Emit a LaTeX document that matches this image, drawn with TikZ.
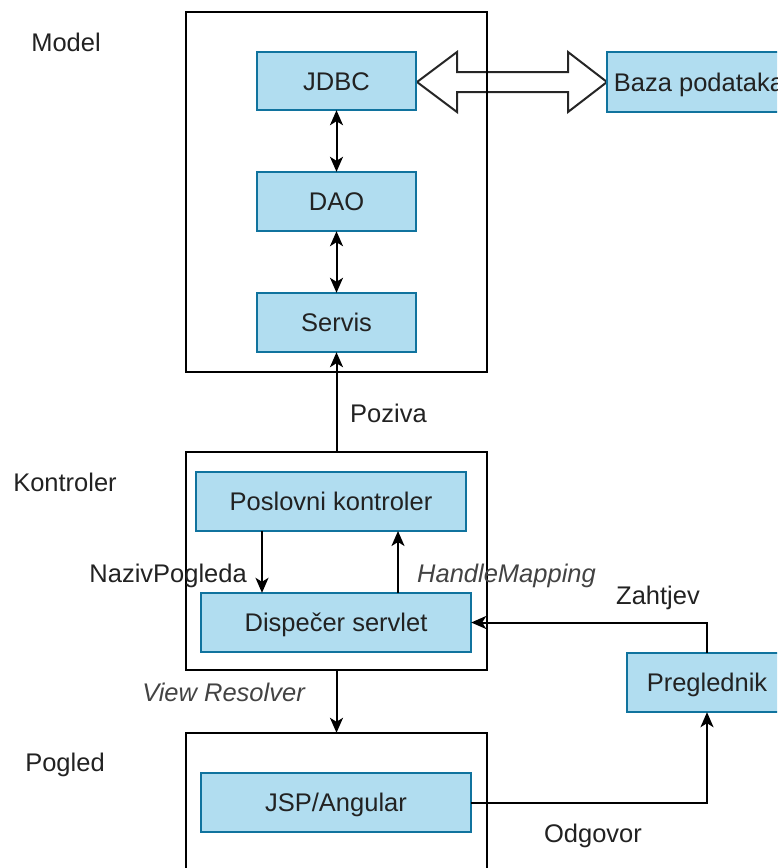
\documentclass[tikz,border=0pt]{standalone}
\usepackage{fontspec}
\setmainfont{Liberation Sans}
\usetikzlibrary{arrows.meta,calc}
\definecolor{boxfill}{HTML}{B1DDF0}
\definecolor{boxline}{HTML}{10739E}
\definecolor{txt}{HTML}{222222}
\begin{document}
\begin{tikzpicture}[x=1pt,y=-1pt,
  every node/.style={font=\fontsize{25.5}{30}\selectfont, text=txt, inner sep=0pt, text height=18.3pt, text depth=0pt},
  blue/.style={draw=boxline, fill=boxfill, line width=2pt},
  ital/.style={font=\fontsize{25.5}{30}\selectfont\itshape, text=txt!85},
  tipk/.tip={Stealth[length=15pt,width=13pt,inset=4pt]},
  conn/.style={draw=black, line width=2pt, -tipk},
  biconn/.style={draw=black, line width=2pt, tipk-tipk}
]
\useasboundingbox (0,0) rectangle (777,868);
\clip (0,0) rectangle (777,868);

% double arrow JDBC <-> Baza
\filldraw[fill=white, draw=black!85, line width=2pt, line join=miter]
  (417,82) -- (457,52) -- (457,72) -- (568,72) -- (568,52) -- (607,82)
  -- (568,112) -- (568,92) -- (457,92) -- (457,112) -- cycle;

% containers
\draw[black, line width=2pt] (186,12) rectangle (487,372);
\node[minimum width=301pt, minimum height=360pt] (model) at (336.5,192) {};
\draw[black, line width=2pt] (186,452) rectangle (487,670);
\node[minimum width=301pt, minimum height=218pt] (kontroler) at (336.5,561) {};
\draw[black, line width=2pt] (186,733) rectangle (487,900);
\node[minimum width=301pt, minimum height=167pt] (pogled) at (336.5,816.5) {};

% blue boxes
\draw[blue] (257,52) rectangle (416,110);
\node (jdbc) at (336.5,81) [minimum width=159pt, minimum height=58pt] {JDBC};
\draw[blue] (257,172) rectangle (416,231);
\node (dao) at (336.5,201.5) [minimum width=159pt, minimum height=59pt] {DAO};
\draw[blue] (257,293) rectangle (416,352);
\node (servis) at (336.5,322.5) [minimum width=159pt, minimum height=59pt] {Servis};

\draw[blue] (607,52) rectangle (800,112);
\node (baza) at (699,82) [minimum width=184pt, minimum height=60pt] {Baza podataka};

\draw[blue] (196,472) rectangle (466,531);
\node (posl) at (331,501.5) [minimum width=270pt, minimum height=59pt] {Poslovni kontroler};
\draw[blue] (201,593) rectangle (471,652);
\node (disp) at (336,622.5) [minimum width=270pt, minimum height=59pt] {Dispečer servlet};
\draw[blue] (201,773) rectangle (471,832);
\node (jsp) at (336,802.5) [minimum width=270pt, minimum height=59pt] {JSP/Angular};
\draw[blue] (627,653) rectangle (787,712);
\node (pregl) at (707,682.5) [minimum width=160pt, minimum height=59pt] {Preglednik};

% section labels
\node (lmodel) at (66,42) {Model};
\node (lkontr) at (65,482) {Kontroler};
\node (lpogled) at (65,762) {Pogled};

% connectors
\draw[biconn] (jdbc.south) -- (dao.north);
\draw[biconn] (dao.south) -- (servis.north);
\draw[conn] (kontroler.north) -- (servis.south);
\node[anchor=west] (poziva) at (350,413) {Poziva};

\coordinate (pa) at (262,531);
\coordinate (pb) at (398,531);
\draw[conn] (pa) -- (pa |- disp.north);
\draw[conn] (pb |- disp.north) -- (pb);
\node[anchor=east] (naziv) at (247,573) {NazivPogleda};
\node[anchor=west, ital] (handle) at (417,573) {HandleMapping};

\draw[conn] (pregl.north) |- (disp.east);
\node (zahtjev) at (658,595) {Zahtjev};

\draw[conn] (kontroler.south) -- (pogled.north);
\node[anchor=east, ital] (viewres) at (305,692) {View Resolver};

\draw[conn] (jsp.east) -| (pregl.south);
\node (odgovor) at (593,833) {Odgovor};
\end{tikzpicture}
\end{document}
